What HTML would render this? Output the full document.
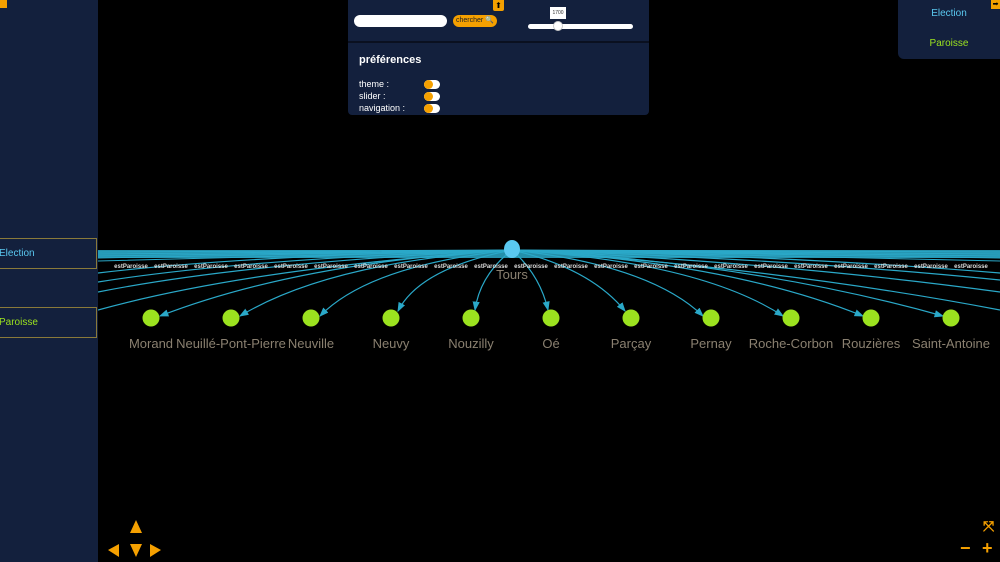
<!DOCTYPE html>
<html><head><meta charset="utf-8"><style>
body{margin:0;width:1000px;height:562px;background:#000;overflow:hidden;position:relative;font-family:"Liberation Sans",sans-serif}
.p{position:absolute;background:#13203d}
.box{position:absolute;left:-2px;width:97px;height:29px;border:1px solid #8a7a3a;font-size:10px;line-height:29px}
.tg{position:absolute;left:424px;width:16px;height:9px;border-radius:5px;background:#fff}
.tg:before{content:"";position:absolute;left:0;top:0;width:9px;height:9px;border-radius:50%;background:#f5a000}
.o{color:#f5a000;position:absolute}
</style></head><body>
<div class="p" style="left:0;top:0;width:98px;height:562px"></div>
<div class="box" style="top:238px;color:#5ac8f0">Election</div>
<div class="box" style="top:307px;color:#9be21f">Paroisse</div>
<div style="position:absolute;left:0;top:0;width:7px;height:8px;background:#f5a000"></div>

<svg style="position:absolute;left:0;top:0" width="1000" height="562">
<defs><marker id="a" markerWidth="8" markerHeight="6" refX="7" refY="3" orient="auto"><path d="M0,0L8,3L0,6z" fill="#2aa8c8"/></marker>
<clipPath id="c"><rect x="98" y="0" width="902" height="562"/></clipPath></defs>
<g clip-path="url(#c)" stroke="#2aa8c8" fill="none" stroke-width="1.2">
<rect x="98" y="250" width="902" height="8" fill="#2aa8c8" stroke="none" opacity="0.85"/>
<path d="M512,250L98,252M512,250L98,254M512,250L98,256M512,250L98,258M512,250L98,261M512,250L1000,252M512,250L1000,254M512,250L1000,256M512,250L1000,258M512,250L1000,261" stroke-width="1"/>
<path d="M512,250Q250,255 98,273M512,250Q250,258 98,282M512,250Q250,262 98,292M512,250Q250,268 98,310"/>
<path d="M512,250Q780,255 1000,273M512,250Q780,258 1000,280M512,250Q780,262 1000,292M512,250Q780,268 1000,310"/>
<path marker-end="url(#a)" d="M512,250Q300,262 160,316"/>
<path marker-end="url(#a)" d="M512,250Q330,262 240,316"/>
<path marker-end="url(#a)" d="M512,250Q370,265 320,316"/>
<path marker-end="url(#a)" d="M512,250Q420,268 398,311"/>
<path marker-end="url(#a)" d="M512,250Q480,275 475,310"/>
<path marker-end="url(#a)" d="M512,250Q540,275 548,310"/>
<path marker-end="url(#a)" d="M512,250Q590,268 625,311"/>
<path marker-end="url(#a)" d="M512,250Q650,265 703,316"/>
<path marker-end="url(#a)" d="M512,250Q700,262 783,316"/>
<path marker-end="url(#a)" d="M512,250Q730,262 863,316"/>
<path marker-end="url(#a)" d="M512,250Q750,262 943,316"/>
<g font-size="6" fill="#ddd" stroke="none" text-anchor="middle" font-weight="bold">
<text x="131" y="268">estParoisse</text><text x="171" y="268">estParoisse</text><text x="211" y="268">estParoisse</text><text x="251" y="268">estParoisse</text><text x="291" y="268">estParoisse</text><text x="331" y="268">estParoisse</text><text x="371" y="268">estParoisse</text><text x="411" y="268">estParoisse</text><text x="451" y="268">estParoisse</text><text x="491" y="268">estParoisse</text><text x="531" y="268">estParoisse</text><text x="571" y="268">estParoisse</text><text x="611" y="268">estParoisse</text><text x="651" y="268">estParoisse</text><text x="691" y="268">estParoisse</text><text x="731" y="268">estParoisse</text><text x="771" y="268">estParoisse</text><text x="811" y="268">estParoisse</text><text x="851" y="268">estParoisse</text><text x="891" y="268">estParoisse</text><text x="931" y="268">estParoisse</text><text x="971" y="268">estParoisse</text>
</g>
</g>
<ellipse cx="512" cy="249" rx="8" ry="9" fill="#5ac8f0"/>
<text x="512" y="279" font-size="13" fill="#8a8070" text-anchor="middle">Tours</text>
<g fill="#9be21f"><circle cx="151" cy="318" r="8.5"/><circle cx="231" cy="318" r="8.5"/><circle cx="311" cy="318" r="8.5"/><circle cx="391" cy="318" r="8.5"/><circle cx="471" cy="318" r="8.5"/><circle cx="551" cy="318" r="8.5"/><circle cx="631" cy="318" r="8.5"/><circle cx="711" cy="318" r="8.5"/><circle cx="791" cy="318" r="8.5"/><circle cx="871" cy="318" r="8.5"/><circle cx="951" cy="318" r="8.5"/></g>
<g font-size="13" fill="#8a8070" text-anchor="middle">
<text x="151" y="348">Morand</text><text x="231" y="348">Neuillé-Pont-Pierre</text><text x="311" y="348">Neuville</text><text x="391" y="348">Neuvy</text><text x="471" y="348">Nouzilly</text><text x="551" y="348">Oé</text><text x="631" y="348">Parçay</text><text x="711" y="348">Pernay</text><text x="791" y="348">Roche-Corbon</text><text x="871" y="348">Rouzières</text><text x="951" y="348">Saint-Antoine</text></g>
<g fill="#f5a000">
<path d="M136,520L142,533L130,533z"/>
<path d="M108,550L119,544L119,557z"/>
<path d="M130,544L142,544L136,557z"/>
<path d="M161,550L150,544L150,557z"/>
</g>
</svg>

<div class="p" style="left:348px;top:0;width:301px;height:115px;border-radius:0 0 4px 4px"></div>
<div style="position:absolute;left:348px;top:41px;width:301px;height:2px;background:#0a1020"></div>
<div style="position:absolute;left:354px;top:15px;width:93px;height:12px;background:#fff;border-radius:6px"></div>
<div style="position:absolute;left:453px;top:15px;width:44px;height:12px;background:#f5a000;border-radius:6px;font-size:7px;line-height:12px;padding-left:3px;box-sizing:border-box;color:#222;white-space:nowrap;overflow:hidden">chercher 🔍</div>
<div style="position:absolute;left:493px;top:0;width:11px;height:11px;background:#f5a000;border-radius:0 0 2px 2px;font-size:8px;text-align:center;line-height:11px">⬆</div>
<div style="position:absolute;left:550px;top:7px;width:16px;height:12px;background:#fff;font-size:5px;text-align:center;line-height:12px;color:#333">1700</div>
<div style="position:absolute;left:528px;top:24px;width:105px;height:5px;background:#fff;border-radius:3px"></div>
<div style="position:absolute;left:553px;top:21px;width:10px;height:10px;background:#fff;border-radius:50%;border:1px solid #ccc;box-sizing:border-box"></div>
<div style="position:absolute;left:359px;top:54px;font-size:11px;font-weight:bold;color:#fff">préférences</div>
<div style="position:absolute;left:359px;top:78px;font-size:9px;color:#fff;line-height:12px">theme :<br>slider :<br>navigation :</div>
<div class="tg" style="top:80px"></div><div class="tg" style="top:92px"></div><div class="tg" style="top:104px"></div>

<div class="p" style="left:898px;top:0;width:102px;height:59px;border-radius:0 0 0 6px"></div>
<div style="position:absolute;left:898px;top:8px;width:102px;text-align:center;font-size:10px;color:#5ac8f0">Election</div>
<div style="position:absolute;left:898px;top:38px;width:102px;text-align:center;font-size:10px;color:#9be21f">Paroisse</div>
<div style="position:absolute;left:991px;top:0;width:9px;height:9px;background:#f5a000;font-size:7px;line-height:9px;text-align:center">➡</div>

<div class="o" style="left:983px;top:518px;font-size:14px;font-weight:bold">⤧</div>
<div class="o" style="left:960px;top:538px;font-size:18px;font-weight:bold">−</div>
<div class="o" style="left:982px;top:538px;font-size:18px;font-weight:bold">+</div>
</body></html>
